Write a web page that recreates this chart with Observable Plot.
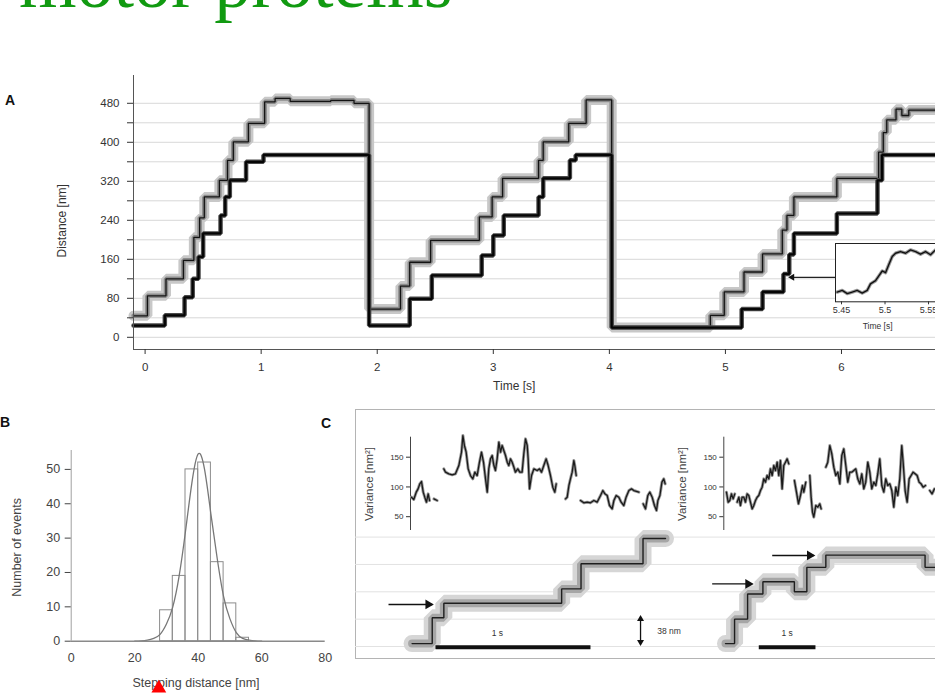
<!DOCTYPE html>
<html>
<head>
<meta charset="utf-8">
<script src="https://cdn.jsdelivr.net/npm/d3@7"></script>
<script src="https://cdn.jsdelivr.net/npm/@observablehq/plot@0.6"></script>
<style>
html, body { margin:0; padding:0; background:#fff; overflow:hidden; }
#root { position:relative; width:935px; height:693px; overflow:hidden; background:#fff; font-family:"Liberation Sans", Arial, sans-serif; }
.box { position:absolute; }
.box svg { overflow:visible; }
#title { position:absolute; left:19px; top:-55px; font-family:"Liberation Serif","Times New Roman",serif; font-size:74px; line-height:74px; color:#119a11; white-space:nowrap; }
.panel { position:absolute; font-weight:bold; font-size:14px; color:#111; line-height:15px; }
#frameC { position:absolute; left:355px; top:409px; width:640px; height:248px; border:1px solid #b4b4b4; }
</style>
</head>
<body>
<div id="root">
  <div id="title">motor proteins</div>
  <div class="panel" style="left:5px;top:93px">A</div>
  <div class="panel" style="left:0px;top:415px">B</div>
  <div class="panel" style="left:321px;top:416px">C</div>
  <div id="frameC"></div>
</div>
<script>
// ---------------- Panel A data (time [s], distance [nm]) ----------------
const timeTicksA = [0, 1, 2, 3, 4, 5, 6];
const distLabelTicksA = [0, 80, 160, 240, 320, 400, 480];
const distGridA = [0, 40, 80, 120, 160, 200, 240, 280, 320, 360, 400, 440, 480];
const upperTraceA = [
  [-0.1,44],[0.02,85],[0.18,120],[0.33,158],[0.42,205],[0.47,245],[0.51,288],[0.64,322],[0.71,363],[0.76,401],[0.89,439],[1.03,483],[1.12,490],[1.25,484],[1.6,486],[1.8,480],
  [1.93,58],[2.2,105],[2.28,154],[2.46,199],[2.88,247],[2.99,288],[3.08,326],[3.39,363],[3.43,401],[3.65,439],[3.8,487],
  [4.02,20],[4.87,45],[4.99,93],[5.16,134],[5.32,171],[5.49,220],[5.53,250],[5.59,288],[5.96,326],[6.32,380],[6.36,420],[6.39,446],[6.47,468],[6.52,455],[6.58,466],[6.9,466]
];
const lowerTraceA = [
  [-0.1,24],[0.17,45],[0.34,82],[0.41,120],[0.46,165],[0.5,213],[0.65,250],[0.69,288],[0.73,322],[0.87,360],[1.02,374],
  [1.93,24],[2.28,79],[2.47,127],[2.9,168],[3.0,209],[3.09,250],[3.39,288],[3.43,326],[3.66,363],[3.71,374],
  [4.02,20],[5.14,58],[5.32,93],[5.5,130],[5.55,170],[5.59,213],[5.96,254],[6.31,322],[6.35,374],[6.9,374]
];
const insetArrowA = [{t1: 5.95, d1: 123, t2: 5.575, d2: 123}];
const insetTicksA = [5.45, 5.5, 5.55];
const insetTraceA = [
  [5.445,250],[5.4508,251.7],[5.4566,248.4],[5.4623,250],[5.468,251.7],[5.4738,249],[5.4795,251.7],[5.4833,258.4],
  [5.4891,261.7],[5.4929,266.7],[5.4968,271.7],[5.5006,270],[5.5044,278.4],[5.5083,286.7],[5.5121,290],[5.5178,291.7],
  [5.5236,290],[5.5293,293.4],[5.5351,291.7],[5.5408,289],[5.5466,291.7],[5.5523,288.4],[5.558,293.4],[5.568,290]
];

// ---------------- Panel B data ----------------
const binStarts = [28, 32, 36, 40, 44, 48, 52];
const binEnds   = [32, 36, 40, 44, 48, 52, 56];
const binCounts = [9, 19, 50, 52, 23, 11, 1];
const fitX = [20, 22, 24, 26, 28, 30, 32, 34, 36, 38, 40, 42, 44, 46, 48, 50, 52, 54, 56, 58, 60];
const fitY = [0, 0.1, 0.3, 0.8, 2, 5, 10, 19, 32, 46, 54.5, 50, 37, 24, 13, 6.5, 2.5, 0.8, 0.3, 0.1, 0];
const stepTicksB = [0, 20, 40, 60, 80];
const countTicksB = [0, 10, 20, 30, 40, 50];
const markerB = [27.6];

// ---------------- Panel C data ----------------
const varianceTicksC = [50, 100, 150];
const stepGridC = [0, 38, 76, 114, 152];
const stepLeftC = [[0.01,4],[0.14,40],[0.215,60],[0.975,80],[1.1,115],[1.5,150],[1.645,150]];
const stepRightC = [[0.03,4],[0.19,38],[0.42,73],[0.69,90],[1.245,76],[1.465,110],[1.8,127],[3.55,110],[3.75,110]];
const varianceLeftC = [
  [[0.006,82.8],[0.021,78.9],[0.037,91.2],[0.049,96.8],[0.060,105.2],[0.071,109.1],[0.082,91.2],[0.092,82.8],[0.103,74.4],[0.114,88.4],[0.123,77.2]],
  [[0.151,80.0],[0.172,77.2]],
  [[0.215,130.4],[0.226,124.8],[0.247,122.0],[0.269,120.3],[0.290,122.0],[0.312,136.0],[0.329,158.4],[0.338,186.4],[0.348,169.6],[0.359,158.4],[0.372,130.4],[0.387,119.2],[0.402,113.6],[0.415,124.8],[0.430,119.2],[0.445,141.6],[0.458,158.4],[0.471,141.6],[0.484,113.6],[0.495,91.2],[0.505,130.4],[0.516,147.2],[0.527,152.8],[0.538,136.0],[0.548,127.6],[0.559,147.2],[0.570,175.2],[0.581,158.4],[0.591,169.6],[0.602,161.2],[0.613,152.8],[0.624,141.6],[0.634,136.0],[0.645,147.2],[0.656,141.6],[0.667,133.2],[0.677,124.8],[0.692,130.4],[0.705,124.8],[0.720,124.8],[0.731,155.6],[0.742,180.8],[0.753,169.6],[0.759,147.2],[0.768,96.8],[0.781,119.2],[0.796,130.4],[0.817,127.6],[0.832,130.4],[0.845,124.8],[0.860,136.0],[0.875,147.2],[0.888,136.0],[0.903,119.2],[0.918,99.6],[0.931,91.2],[0.940,105.2]],
  [[1.000,80.0],[1.011,82.8],[1.022,102.4],[1.032,113.6],[1.043,124.8],[1.054,144.4],[1.060,136.0],[1.069,119.2]],
  [[1.097,77.2],[1.118,73.3],[1.140,74.4],[1.161,73.3],[1.183,77.2],[1.204,74.4],[1.226,85.6],[1.241,94.0],[1.254,88.4],[1.269,85.6],[1.284,68.8],[1.301,63.2],[1.312,77.2],[1.327,85.6],[1.344,82.8],[1.359,74.4],[1.376,68.8],[1.391,82.8],[1.409,94.0],[1.426,96.8],[1.441,94.0],[1.473,91.2]],
  [[1.501,71.6],[1.516,63.2],[1.531,85.6],[1.544,91.2],[1.559,82.8],[1.574,68.8],[1.587,60.4],[1.596,77.2],[1.609,85.6],[1.622,108.0],[1.634,113.6],[1.643,105.2]]
];
const varianceRightC = [
  [[0.047,91.2],[0.077,74.4],[0.106,77.2],[0.135,88.4],[0.165,80.0],[0.194,88.4]],
  [[0.235,74.4],[0.265,82.8],[0.294,68.8],[0.323,82.8],[0.353,82.8],[0.382,74.4],[0.412,88.4],[0.441,85.6],[0.470,74.4],[0.500,63.2],[0.529,68.8],[0.559,77.2],[0.588,82.8],[0.617,85.6],[0.647,94.0],[0.676,99.6],[0.705,113.6],[0.735,108.0],[0.764,119.2],[0.794,113.6],[0.823,130.4],[0.853,119.2],[0.882,136.0],[0.911,127.6],[0.941,141.6],[0.970,119.2],[0.999,144.4],[1.029,96.8],[1.058,136.0],[1.088,141.6],[1.117,147.2],[1.146,138.8]],
  [[1.246,110.8],[1.282,91.2],[1.317,71.6],[1.352,85.6],[1.387,102.4],[1.411,91.2],[1.446,108.0]],
  [[1.517,119.2],[1.540,82.8],[1.564,57.6],[1.587,49.2],[1.623,68.8],[1.658,66.0],[1.693,71.6],[1.717,63.2]],
  [[1.799,133.2],[1.834,141.6],[1.870,169.6],[1.905,155.6],[1.940,133.2],[1.975,119.2],[2.011,124.8],[2.046,105.2],[2.081,152.8],[2.116,164.0],[2.152,136.0],[2.187,108.0],[2.222,124.8],[2.257,124.8],[2.293,127.6],[2.328,130.4],[2.363,113.6],[2.399,105.2],[2.434,122.0],[2.469,96.8],[2.504,108.0],[2.540,141.6],[2.575,124.8],[2.610,96.8],[2.646,108.0],[2.681,102.4],[2.716,122.0],[2.751,147.2],[2.787,102.4],[2.822,91.2],[2.857,113.6],[2.892,102.4],[2.928,105.2],[2.963,94.0],[2.998,66.0],[3.034,99.6],[3.069,85.6],[3.104,113.6],[3.139,169.6],[3.163,141.6],[3.198,94.0],[3.234,74.4],[3.269,113.6],[3.304,119.2],[3.339,124.8],[3.375,122.0],[3.410,119.2],[3.445,108.0],[3.480,105.2],[3.516,99.6],[3.557,102.4]],
  [[3.633,94.0],[3.674,88.4],[3.715,96.8]]
];
const scaleBarLeftC = [{t1: 0.161, t2: 1.161, d: -1}];
const scaleBarRightC = [{t1: 0.617, t2: 1.617, d: -1}];
const arrowsLeftC = [{t1: -0.142, t2: 0.14, d: 58.4}];
const arrowsRightC = [{t1: -0.205, t2: 0.5, d: 87}, {t1: 0.854, t2: 1.587, d: 126.5}];
const distanceScaleC = [{t: 1.484, d1: 3.5, d2: 41}];

// ---------------- helpers ----------------
const root = document.getElementById("root");
const rows = (pairs) => pairs.map(([t, v]) => ({t, v}));
const segRows = (segs) => segs.flatMap((s, i) => s.map(([t, v]) => ({t, v, seg: i})));
const baseStyle = {background: "transparent", overflow: "visible", fontFamily: "'Liberation Sans', Arial, sans-serif", color: "#333"};
function place(svg, left, top, width) {
  const d = document.createElement("div");
  d.className = "box";
  d.style.left = left + "px";
  d.style.top = top + "px";
  d.style.width = width + "px";
  d.appendChild(svg);
  root.appendChild(d);
}
const label = (txt, opts) => Plot.text([txt], {text: d => d, textAnchor: "middle", lineAnchor: "middle", ...opts});

// ---------------- Panel A ----------------
const up = rows(upperTraceA), lo = rows(lowerTraceA);
const stepLine = (data, stroke, w, op = 1) => Plot.line(data, {x: "t", y: "v", curve: "step-after", stroke, strokeWidth: w, strokeOpacity: op, strokeLinejoin: "bevel"});
const plotA = Plot.plot({
  width: 935, height: 330, marginLeft: 133, marginRight: 0, marginTop: 5, marginBottom: 51,
  style: {...baseStyle, fontSize: "11px"},
  x: {domain: [-0.1, 6.81]},
  y: {domain: [-25, 537]},
  marks: [
    Plot.ruleY(distGridA, {stroke: "#d8d8d8", strokeWidth: 1}),
    stepLine(up, "#c8c8c8", 10),
    stepLine(up, "#8c8c8c", 4.5),
    stepLine(up, "#141414", 1.3),
    stepLine(lo, "#4a4a4a", 4.5),
    stepLine(lo, "#050505", 2.2),
    Plot.ruleX([-0.1], {stroke: "#555"}),
    Plot.ruleY([-25], {stroke: "#555"}),
    Plot.axisX({ticks: timeTicksA, tickSize: 5, tickPadding: 8, label: null, fontSize: 11.5, tickFormat: d => String(d)}),
    Plot.axisY({ticks: distGridA, tickSize: 6, tickPadding: 8, label: null, fontSize: 11.5,
      tickFormat: d => distLabelTicksA.includes(d) ? String(d) : ""}),
    label("Time [s]", {x: [3.18], frameAnchor: "bottom", dy: 37, fontSize: 12, fill: "#333"}),
    label("Distance [nm]", {y: [239], frameAnchor: "left", rotate: -90, dx: -71, fontSize: 12, fill: "#333"}),
    Plot.link(insetArrowA, {x1: "t1", y1: "d1", x2: "t2", y2: "d2", stroke: "#222", strokeWidth: 1.2}),
    Plot.dot(insetArrowA, {x: "t2", y: "d2", symbol: "triangle", rotate: -90, r: 2.6, fill: "#111", stroke: "none"})
  ]
});
place(plotA, 0, 70, 935);

const plotInset = Plot.plot({
  width: 110, height: 90, marginLeft: 0, marginRight: 0, marginTop: 0, marginBottom: 31.7,
  style: {...baseStyle, fontSize: "9px"},
  x: {domain: [5.4431, 5.5695]},
  y: {domain: [240, 300], axis: null},
  marks: [
    Plot.frame({fill: "white", stroke: "#222"}),
    Plot.line(rows(insetTraceA), {x: "t", y: "v", stroke: "#222", strokeWidth: 3.4, strokeOpacity: 0.45}),
    Plot.line(rows(insetTraceA), {x: "t", y: "v", stroke: "#111", strokeWidth: 1.4}),
    Plot.axisX({ticks: insetTicksA, tickSize: 3, tickPadding: 2, label: null, fontSize: 9, tickFormat: d => String(d)}),
    label("Time [s]", {x: [5.4915], frameAnchor: "bottom", dy: 24, fontSize: 8.5, fill: "#333"})
  ]
});
place(plotInset, 835, 242.7, 110);

// ---------------- Panel B ----------------
const bins = binStarts.map((x1, i) => ({x1, x2: binEnds[i], n: binCounts[i]}));
const fit = fitX.map((x, i) => ({x, y: fitY[i]}));
const plotB = Plot.plot({
  width: 335, height: 253, marginLeft: 70.7, marginRight: 10.3, marginTop: 10, marginBottom: 52.3,
  style: {...baseStyle, fontSize: "12px", color: "#444"},
  x: {domain: [0, 80]},
  y: {domain: [0, 55.5]},
  marks: [
    Plot.rectY(bins, {x1: "x1", x2: "x2", y: "n", fill: "none", stroke: "#8c8c8c", strokeWidth: 1}),
    Plot.line(fit, {x: "x", y: "y", stroke: "#777", strokeWidth: 1.3, curve: "natural"}),
    Plot.ruleY([0], {stroke: "#8a8a8a", strokeWidth: 1.6}),
    Plot.ruleX([0], {stroke: "#a0a0a0"}),
    Plot.axisX({ticks: stepTicksB, tickSize: 0, tickPadding: 12, label: null, fontSize: 12.5}),
    Plot.axisY({ticks: countTicksB, tickSize: 6, tickPadding: 5, label: null, fontSize: 12.5}),
    label("Stepping distance [nm]", {x: [39.3], frameAnchor: "bottom", dy: 42, fontSize: 12.5, fill: "#444"}),
    label("Number of events", {y: [27.3], frameAnchor: "left", rotate: -90, dx: -54, fontSize: 12.5, fill: "#444"}),
    Plot.dot(markerB, {x: d => d, frameAnchor: "bottom", dy: 47, symbol: "triangle", r: 5.5, fill: "#ff0000", stroke: "none"})
  ]
});
place(plotB, 0, 440, 335);

// ---------------- Panel C: step traces ----------------
const arrowMarks = (arr) => [
  Plot.link(arr, {x1: "t1", x2: "t2", y1: "d", y2: "d", stroke: "#111", strokeWidth: 1.4}),
  Plot.dot(arr, {x: "t2", y: "d", symbol: "triangle", rotate: 90, r: 3.6, dx: -4, fill: "#111", stroke: "none"})
];
const stepBand = (data) => [
  stepLine(data, "#d6d6d6", 17),
  stepLine(data, "#a6a6a6", 8),
  stepLine(data, "#1e1e1e", 1.4)
];
const plotCLeftStep = Plot.plot({
  width: 580, height: 128, marginLeft: 0, marginRight: 0, marginTop: 6.6, marginBottom: 12,
  style: {...baseStyle, fontSize: "8.5px"},
  x: {domain: [-0.355, 3.387], axis: null},
  y: {domain: [0, 152], axis: null},
  marks: [
    Plot.ruleY(stepGridC, {stroke: "#e2e2e2"}),
    ...stepBand(rows(stepLeftC)),
    Plot.link(scaleBarLeftC, {x1: "t1", x2: "t2", y1: "d", y2: "d", stroke: "#111", strokeWidth: 4}),
    label("1 s", {x: [0.56], y: [18], fontSize: 8.5, fill: "#333"}),
    ...arrowMarks(arrowsLeftC),
    Plot.link(distanceScaleC, {x1: "t", x2: "t", y1: "d1", y2: "d2", stroke: "#111", strokeWidth: 1.3}),
    Plot.dot(distanceScaleC, {x: "t", y: "d2", symbol: "triangle", r: 2.6, dy: 2, fill: "#111", stroke: "none"}),
    Plot.dot(distanceScaleC, {x: "t", y: "d1", symbol: "triangle", rotate: 180, r: 2.6, dy: -2, fill: "#111", stroke: "none"}),
    label("38 nm", {x: [1.592], y: [21], textAnchor: "start", fontSize: 8.5, fill: "#333"})
  ]
});
place(plotCLeftStep, 355, 530, 580);

const plotCRightStep = Plot.plot({
  width: 295, height: 128, marginLeft: 0, marginRight: 0, marginTop: 6.6, marginBottom: 12,
  style: {...baseStyle, fontSize: "8.5px"},
  x: {domain: [-1.469, 3.734], axis: null},
  y: {domain: [0, 152], axis: null},
  marks: [
    ...stepBand(rows(stepRightC)),
    Plot.link(scaleBarRightC, {x1: "t1", x2: "t2", y1: "d", y2: "d", stroke: "#111", strokeWidth: 4}),
    label("1 s", {x: [1.117], y: [18], fontSize: 8.5, fill: "#333"}),
    ...arrowMarks(arrowsRightC)
  ]
});
place(plotCRightStep, 640, 530, 295);

// ---------------- Panel C: variance traces ----------------
const variancePlot = (segs, width, marginLeft, tMax) => Plot.plot({
  width, height: 125, marginLeft, marginRight: 0, marginTop: 27.7, marginBottom: 4,
  style: {...baseStyle, fontSize: "8px"},
  x: {domain: [0, tMax], axis: null},
  y: {domain: [26.8, 183.6]},
  marks: [
    Plot.ruleX([0], {stroke: "#444", strokeWidth: 1}),
    Plot.axisY({ticks: varianceTicksC, tickSize: 4, tickPadding: 3, label: null, fontSize: 8}),
    Plot.line(segRows(segs), {x: "t", y: "v", z: "seg", stroke: "#9a9a9a", strokeWidth: 3}),
    Plot.line(segRows(segs), {x: "t", y: "v", z: "seg", stroke: "#1a1a1a", strokeWidth: 1.3}),
    label("Variance [nm²]", {y: [105], frameAnchor: "left", rotate: -90, dx: -41, fontSize: 11.5, fill: "#444"})
  ]
});
place(variancePlot(varianceLeftC, 580, 55, 3.387), 355, 409, 580);
place(variancePlot(varianceRightC, 295, 83.3, 3.734), 640, 409, 295);
</script>
</body>
</html>
